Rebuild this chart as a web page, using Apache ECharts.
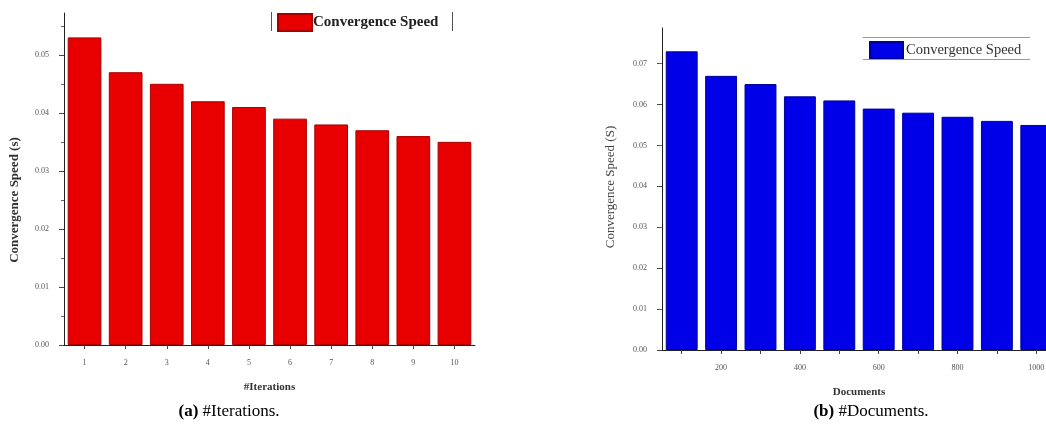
<!DOCTYPE html>
<html>
<head>
<meta charset="utf-8">
<script src="https://cdn.jsdelivr.net/npm/echarts@6/dist/echarts.min.js"></script>
<style>
  html, body { margin: 0; padding: 0; background: #fff; }
  #chart { width: 1046px; height: 427px; }
</style>
</head>
<body>
<div id="chart"></div>
<script>
// (a) convergence speed per iteration
const iterCategories = ['1', '2', '3', '4', '5', '6', '7', '8', '9', '10'];
const iterSpeed = [0.053, 0.047, 0.045, 0.042, 0.041, 0.039, 0.038, 0.037, 0.036, 0.035];
const iterTicks = [0, 0.01, 0.02, 0.03, 0.04, 0.05];

// (b) convergence speed per number of documents
const docCategories = ['100', '200', '300', '400', '500', '600', '700', '800', '900', '1000'];
const docSpeed = [0.073, 0.067, 0.065, 0.062, 0.061, 0.059, 0.058, 0.057, 0.056, 0.055];
const docTicks = [0, 0.01, 0.02, 0.03, 0.04, 0.05, 0.06, 0.07];

const seriesName = 'Convergence Speed';
const serif = '"Liberation Serif", "Times New Roman", serif';

const chart = echarts.init(document.getElementById('chart'));

function valueAxis(gridIndex, max, ticks) {
  return {
    type: 'value', gridIndex, min: 0, max,
    axisLine: { show: true, lineStyle: { color: '#222', width: 1 } },
    axisTick: { show: true, inside: false, length: 5, customValues: ticks, lineStyle: { color: '#444' } },
    minorTick: { show: true, splitNumber: 2, length: 3, lineStyle: { color: '#666' } },
    axisLabel: { customValues: ticks, formatter: v => v.toFixed(2), fontFamily: serif, fontSize: 8, color: '#555', margin: 15 },
    splitLine: { show: false }
  };
}

function categoryAxis(gridIndex, data, name, labelInterval) {
  return {
    type: 'category', gridIndex, data,
    name, nameLocation: 'middle', nameGap: 37,
    nameTextStyle: { fontFamily: serif, fontSize: 11, fontWeight: 'bold', color: '#333' },
    axisLine: { show: true, lineStyle: { color: '#222', width: 1 } },
    axisTick: { show: true, alignWithLabel: true, interval: 0, length: 4, lineStyle: { color: '#444' } },
    axisLabel: { interval: labelInterval, fontFamily: serif, fontSize: 8, color: '#555', margin: 14 },
    splitLine: { show: false }
  };
}

const captionStyle = {
  rich: { b: { fontFamily: serif, fontSize: 17, fontWeight: 'bold', color: '#000' } },
  fontFamily: serif, fontSize: 17, fontWeight: 'normal', color: '#000'
};

chart.setOption({
  animation: false,
  backgroundColor: '#fff',
  grid: [
    { left: 64, top: 13, right: 571, bottom: 82, outerBoundsMode: 'none' },
    // the right panel runs past the page edge, so its last bar is cut off
    { left: 662, top: 28, right: -10, bottom: 77, outerBoundsMode: 'none' }
  ],
  xAxis: [
    categoryAxis(0, iterCategories, '#Iterations', 0),
    categoryAxis(1, docCategories, 'Documents', (i) => i % 2 === 1)
  ],
  yAxis: [
    valueAxis(0, 0.0572, iterTicks),
    valueAxis(1, 0.0787, docTicks)
  ],
  legend: [
    {
      data: [{ name: seriesName, icon: 'rect' }], left: 277, top: 13, itemWidth: 34, itemHeight: 17, itemGap: 0,
      textStyle: { fontFamily: serif, fontSize: 15, fontWeight: 'bold', color: '#222', padding: [0, 0, 0, -4] },
      selectedMode: false, padding: 0
    },
    {
      data: [{ name: seriesName + ' ', icon: 'rect' }], left: 869, top: 41, itemWidth: 33, itemHeight: 16, itemGap: 0,
      textStyle: { fontFamily: serif, fontSize: 14.5, color: '#333', padding: [0, 0, 0, -2] },
      selectedMode: false, padding: 0
    }
  ],
  title: [
    { text: '{b|(a)} #Iterations.', left: 224, top: 398, textAlign: 'center', textStyle: captionStyle },
    { text: '{b|(b)} #Documents.', left: 866, top: 398, textAlign: 'center', textStyle: captionStyle }
  ],
  graphic: [
    // y-axis titles
    {
      type: 'text', x: 15, y: 200, rotation: Math.PI / 2,
      style: { text: 'Convergence Speed (s)', fontFamily: serif, fontSize: 13, fontWeight: 'bold', fill: '#333', align: 'center', verticalAlign: 'middle' }
    },
    {
      type: 'text', x: 611, y: 187, rotation: Math.PI / 2,
      style: { text: 'Convergence Speed (S)', fontFamily: serif, fontSize: 13, fill: '#444', align: 'center', verticalAlign: 'middle' }
    },
    // side rules of the left legend frame
    { type: 'line', shape: { x1: 271.5, y1: 12, x2: 271.5, y2: 31 }, style: { stroke: '#555', lineWidth: 1 } },
    { type: 'line', shape: { x1: 452.5, y1: 12, x2: 452.5, y2: 31 }, style: { stroke: '#555', lineWidth: 1 } },
    // top and bottom rules of the right legend frame
    { type: 'line', shape: { x1: 863, y1: 37.5, x2: 1030, y2: 37.5 }, style: { stroke: '#999', lineWidth: 1 } },
    { type: 'line', shape: { x1: 863, y1: 59.5, x2: 1030, y2: 59.5 }, style: { stroke: '#999', lineWidth: 1 } }
  ],
  series: [
    {
      name: seriesName, type: 'bar', xAxisIndex: 0, yAxisIndex: 0, data: iterSpeed,
      barWidth: '82%',
      itemStyle: { color: '#E80000', borderColor: '#A80000', borderWidth: 1 }
    },
    {
      name: seriesName + ' ', type: 'bar', xAxisIndex: 1, yAxisIndex: 1, data: docSpeed,
      barWidth: '81%',
      itemStyle: { color: '#0000E8', borderColor: '#00009A', borderWidth: 1 }
    }
  ]
});
</script>
</body>
</html>
